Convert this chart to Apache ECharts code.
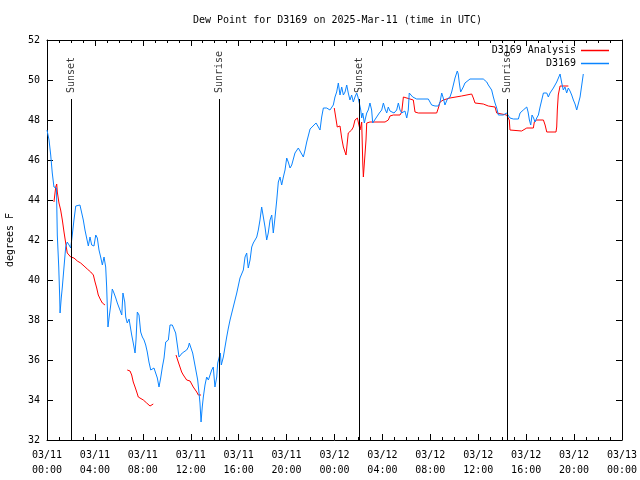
<!DOCTYPE html>
<html><head><meta charset="utf-8">
<script src="https://cdn.jsdelivr.net/npm/echarts@6/dist/echarts.min.js"></script>
<style>html,body{margin:0;padding:0;background:#fff}#c{width:640px;height:480px}</style>
</head><body><div id="c"></div>
<script>
// x in hours since 03/11 00:00 UTC
const xTickLabels = ['03/11\n00:00','03/11\n04:00','03/11\n08:00','03/11\n12:00','03/11\n16:00','03/11\n20:00',
  '03/12\n00:00','03/12\n04:00','03/12\n08:00','03/12\n12:00','03/12\n16:00','03/12\n20:00','03/13\n00:00'];

const stationTimes = [0,0.08,0.17,0.31,0.44,0.58,0.73,0.79,0.86,0.98,1.06,1.09,1.19,1.28,1.42,1.56,1.69,1.84,1.98,2.11,2.25,2.40,2.75,2.86,3.03,3.17,3.31,3.45,3.59,3.73,3.92,4.07,4.20,4.34,4.48,4.62,4.76,4.90,4.98,5.09,5.18,5.32,5.45,5.59,5.74,5.87,6.09,6.24,6.34,6.49,6.57,6.70,6.85,6.93,7.07,7.20,7.35,7.43,7.54,7.68,7.82,7.96,8.10,8.24,8.37,8.51,8.66,8.79,8.93,9.07,9.21,9.35,9.49,9.63,9.77,9.91,10.13,10.27,10.46,10.60,10.74,10.88,11.02,11.16,11.29,11.44,11.66,11.80,11.88,12.02,12.16,12.30,12.44,12.58,12.69,12.77,12.86,12.96,13.05,13.19,13.33,13.47,13.61,13.75,13.88,14.02,14.17,14.25,14.38,14.47,14.55,14.72,14.86,15.00,15.14,15.28,15.55,15.84,16.11,16.39,16.53,16.67,16.80,16.95,17.09,17.22,17.51,17.64,17.78,17.92,18.06,18.20,18.34,18.47,18.62,18.76,18.89,19.03,19.18,19.31,19.45,19.59,19.73,19.87,20.01,20.14,20.29,20.43,20.70,20.98,21.12,21.40,21.54,21.68,21.96,22.12,22.29,22.46,22.65,22.79,22.93,23.07,23.35,23.62,23.90,24.04,24.18,24.32,24.46,24.60,24.74,24.88,25.02,25.15,25.29,25.43,25.57,25.71,25.85,25.96,26.07,26.19,26.27,26.36,26.49,26.69,26.82,26.96,27.10,27.19,27.30,27.52,27.74,27.94,28.08,28.22,28.36,28.49,28.63,28.78,28.97,29.19,29.33,29.47,29.61,29.88,30.03,30.16,30.24,30.36,30.53,30.86,31.83,31.97,32.11,32.39,32.67,32.81,32.95,33.08,33.22,33.42,33.64,33.78,33.92,34.06,34.25,34.33,34.42,34.53,34.64,34.75,34.89,35.04,35.31,36.42,36.71,36.84,36.98,37.12,37.26,37.40,37.54,37.68,38.09,38.37,38.48,38.65,38.93,39.35,39.49,39.76,40.05,40.16,40.27,40.38,40.49,40.62,40.74,40.88,41.02,41.16,41.30,41.44,41.72,41.85,41.99,42.27,42.55,42.83,42.97,43.10,43.24,43.38,43.52,43.66,43.80,43.94,44.08,44.22,44.36,44.50,44.64,44.77];
const stationValues = [47.5,47.5,47.0,46.25,45.35,44.65,44.6,44.6,42.25,40.65,39.15,38.35,39.1,39.65,40.65,41.65,41.9,41.75,41.6,42.25,43.0,43.7,43.75,43.65,43.0,42.5,42.1,41.7,42.15,41.75,41.7,42.25,42.1,41.5,41.15,40.75,41.15,40.65,39.65,37.65,38.1,38.75,39.55,39.35,39.1,38.85,38.5,38.25,39.35,38.9,38.15,37.85,38.05,38.0,37.25,36.85,36.35,37.0,38.4,38.25,37.4,37.15,37.0,36.75,36.4,35.9,35.5,35.6,35.6,35.5,35.1,34.65,35.1,35.65,36.1,36.9,37.0,37.75,37.75,37.65,37.35,36.75,36.15,36.15,36.35,36.4,36.5,36.65,36.85,36.6,36.35,35.9,35.45,35.0,34.35,33.85,32.9,33.65,34.15,34.75,35.15,35.0,35.25,35.5,35.65,34.65,35.15,35.85,36.15,36.35,35.75,36.15,36.65,37.15,37.6,38.0,38.65,39.35,40.1,40.5,41.15,41.35,40.6,41.0,41.65,41.85,42.15,42.5,43.0,43.65,43.15,42.65,42.0,42.35,43.0,43.25,42.35,43.1,44.0,44.9,45.15,44.75,45.15,45.5,46.1,45.9,45.6,45.75,46.35,46.6,46.5,46.15,46.5,46.9,47.55,47.55,47.75,47.85,47.65,47.5,48.15,48.6,48.6,48.5,48.75,49.15,49.4,49.85,49.25,49.65,49.25,49.4,49.75,49.35,49.0,49.25,48.9,49.15,49.35,49.15,48.85,48.5,48.1,48.35,47.85,48.35,48.5,48.85,48.5,47.85,47.75,48.15,48.35,48.5,48.85,48.55,48.35,48.65,48.45,48.5,48.35,48.5,48.85,48.5,48.35,48.45,48.1,48.5,49.35,49.35,49.15,49.05,49.05,49.0,48.75,48.7,48.7,48.9,49.35,49.1,48.75,49.05,49.15,49.4,49.75,50.1,50.45,50.3,49.85,49.4,49.5,49.65,49.85,49.95,50.05,50.05,49.9,49.75,49.7,49.5,49.15,48.85,48.6,48.25,48.25,48.35,48.25,48.1,48.05,48.05,48.35,48.5,48.65,48.4,48.0,47.75,48.25,48.1,47.9,48.1,48.25,48.65,49.0,49.35,49.35,49.15,49.35,49.6,49.9,50.3,49.85,49.5,49.65,49.35,49.6,49.45,49.25,49.0,48.8,48.5,48.4,49.15,49.75,50.3];

// null marks a gap in the analysis record
const analysisTimes = [0.58,0.73,0.81,0.86,1.00,1.14,1.28,1.42,1.56,1.69,1.78,1.98,2.25,2.53,2.81,3.09,3.36,3.65,3.87,4.01,4.15,4.28,4.48,4.62,4.76,4.84,null,
  6.70,6.93,7.07,7.20,7.35,7.49,7.62,7.76,8.04,8.32,8.60,8.74,8.87,null,
  10.77,10.96,11.10,11.24,11.38,11.52,11.66,11.94,12.08,12.21,12.35,12.50,12.63,12.86,null,
  23.98,24.13,24.23,24.33,24.46,24.60,24.74,24.88,24.96,25.02,25.15,25.29,25.43,25.57,25.71,25.91,26.07,26.13,26.27,26.36,26.41,26.55,26.63,26.69,26.96,28.22,28.49,28.63,28.91,29.47,29.61,29.75,30.58,30.72,31.00,32.53,32.67,32.81,33.08,33.64,33.78,34.61,34.75,35.45,35.59,35.73,36.42,36.84,37.40,37.54,37.68,38.37,38.59,38.65,38.79,39.62,39.76,40.05,40.60,40.68,40.88,41.44,41.58,41.72,42.49,42.55,42.60,42.68,42.83,43.52];
const analysisValues = [43.9,44.65,44.8,44.4,43.85,43.5,43.0,42.4,41.85,41.35,41.25,41.15,41.1,40.95,40.85,40.7,40.55,40.4,40.25,39.9,39.6,39.25,39.0,38.85,38.8,38.75,null,
  35.5,35.45,35.25,34.9,34.65,34.4,34.15,34.15,34.0,33.85,33.7,33.65,33.8,null,
  36.25,35.9,35.65,35.4,35.25,35.15,35.0,34.95,34.85,34.65,34.55,34.4,34.25,34.25,null,
  48.6,48.55,47.65,47.6,47.7,47.1,46.65,46.6,46.25,46.6,47.35,47.4,47.5,47.65,48.0,48.1,48.05,47.5,47.9,45.85,45.15,45.15,47.0,47.85,47.9,47.9,48.0,48.2,48.25,48.25,48.4,49.15,49.0,48.4,48.35,48.35,48.6,48.9,49.0,49.1,49.2,49.2,49.3,49.3,49.1,48.85,48.8,48.7,48.65,48.35,48.25,48.25,48.0,47.5,47.45,47.45,47.55,47.6,47.6,47.9,48.0,48.0,47.75,47.4,47.4,47.65,48.5,49.25,49.7,49.7];

const sunLabels = ['Sunset','Sunrise','Sunset','Sunrise'];
const sunTimes = [2.0, 14.36, 26.05, 38.4];

const FONT = 'DejaVu Sans Mono';
const toPairs = (ts, vs) => ts.map((t, i) => (t === null || vs[i] === null) ? ['-', '-'] : [t, vs[i]]);

const axisCommonX = {
  type: 'value', min: 0, max: 48, interval: 4,
  axisLine: { show: true, onZero: false, lineStyle: { color: '#000', width: 1 } },
  axisTick: { show: true, inside: true, length: 6, lineStyle: { color: '#000', width: 1 } },
  minorTick: { show: true, splitNumber: 4, length: 3, lineStyle: { color: '#000', width: 1 } },
  splitLine: { show: false }, minorSplitLine: { show: false }
};
const axisCommonY = {
  type: 'value', min: 32, max: 52, interval: 2,
  axisLine: { show: true, onZero: false, lineStyle: { color: '#000', width: 1 } },
  axisTick: { show: true, inside: true, length: 6, lineStyle: { color: '#000', width: 1 } },
  splitLine: { show: false }
};

const chart = echarts.init(document.getElementById('c'), null, { renderer: 'canvas' });
chart.setOption({
  animation: false,
  backgroundColor: '#fff',
  title: {
    text: 'Dew Point for D3169 on 2025-Mar-11 (time in UTC)',
    left: 188, top: 10,
    textStyle: { fontFamily: FONT, fontSize: 10, fontWeight: 'normal', color: '#000' }
  },
  legend: {
    data: ['D3169 Analysis', 'D3169'],
    orient: 'vertical', right: 31, top: 44, align: 'right', padding: 0,
    icon: 'rect', itemWidth: 28, itemHeight: 1.5, itemGap: 0,
    textStyle: { fontFamily: FONT, fontSize: 10, color: '#000', lineHeight: 13 }
  },
  grid: { left: 47, right: 18, top: 40, bottom: 40, containLabel: false, outerBoundsMode: 'none' },
  xAxis: [
    Object.assign({}, axisCommonX, {
      position: 'bottom',
      axisLabel: { formatter: v => xTickLabels[Math.round(v / 4)], color: '#000', fontFamily: FONT, fontSize: 10, lineHeight: 15, margin: 8 }
    }),
    Object.assign({}, axisCommonX, { position: 'top', axisLabel: { show: false } })
  ],
  yAxis: [
    Object.assign({}, axisCommonY, {
      position: 'left',
      name: 'degrees F', nameLocation: 'middle', nameGap: 32, nameRotate: 90,
      nameTextStyle: { fontFamily: FONT, fontSize: 10, color: '#000' },
      axisLabel: { color: '#000', fontFamily: FONT, fontSize: 10, margin: 7 }
    }),
    Object.assign({}, axisCommonY, { position: 'right', axisLabel: { show: false } })
  ],
  series: [
    {
      name: 'D3169 Analysis', type: 'line', data: toPairs(analysisTimes, analysisValues),
      showSymbol: false, symbol: 'none', connectNulls: false,
      lineStyle: { color: '#ff0000', width: 1 }, itemStyle: { color: '#ff0000' }, z: 2
    },
    {
      name: 'D3169', type: 'line', data: toPairs(stationTimes, stationValues),
      showSymbol: false, symbol: 'none',
      lineStyle: { color: '#0a84ff', width: 1 }, itemStyle: { color: '#0a84ff' }, z: 3
    },
    {
      name: 'sun', type: 'scatter', symbolSize: 0, z: 4,
      data: sunTimes.map((t, i) => ({ value: [t, 49.05], label: { formatter: sunLabels[i] } })),
      label: {
        show: true, position: 'top', distance: 6, rotate: 90, align: 'left', verticalAlign: 'middle',
        fontFamily: FONT, fontSize: 10, color: '#000'
      },
      markLine: {
        silent: true, symbol: 'none', label: { show: false },
        lineStyle: { color: '#000', width: 1, type: 'solid' },
        data: sunTimes.map(t => [{ coord: [t, 32] }, { coord: [t, 49.05] }])
      }
    }
  ]
});
</script></body></html>
